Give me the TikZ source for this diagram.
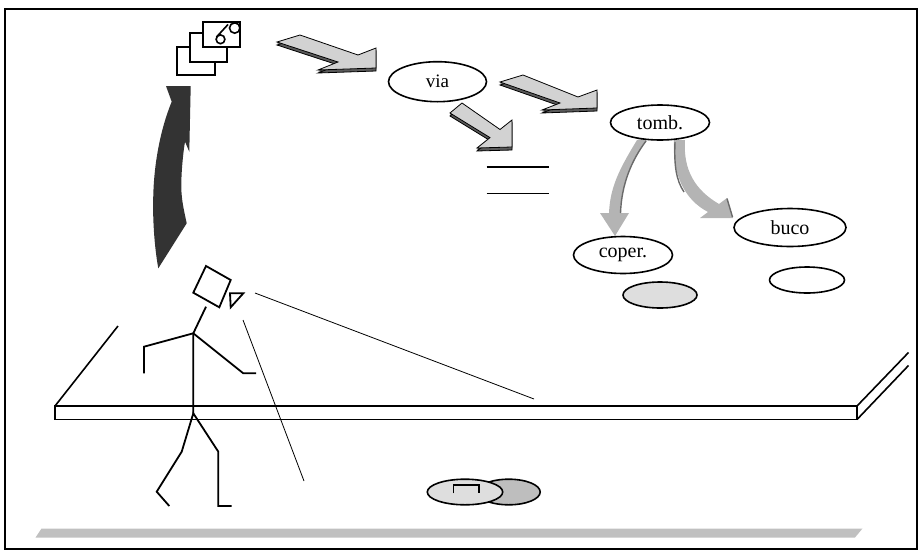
\documentclass[tikz,border=0pt]{standalone}
\usepackage{fontspec}
\setmainfont{Liberation Serif}
\usetikzlibrary{shapes.geometric}

\definecolor{facegray}{HTML}{D2D2D2}
\definecolor{sidegray}{HTML}{5A5A5A}
\definecolor{bendgray}{HTML}{B4B4B4}
\definecolor{bendedge}{HTML}{6A6A6A}
\definecolor{darkarrow}{HTML}{333333}
\definecolor{disclight}{HTML}{DEDEDE}
\definecolor{discdark}{HTML}{BEBEBE}
\definecolor{barcolor}{HTML}{C0C0C0}

\tikzset{
  oval/.style={draw, line width=1.6pt, ellipse, inner sep=0pt, fill=white,
    font=\fontsize{20}{20}\selectfont},
  framebox/.style={line width=1.4pt},
  slab/.style={line width=1.6pt, line join=miter},
  limb/.style={line width=1.8pt, line join=miter},
  sight/.style={line width=0.8pt},
  rule/.style={line width=1.6pt},
  iconbox/.style={draw, line width=1.8pt, fill=white},
  curvebody/.style={fill=bendgray},
  curverim/.style={draw=bendedge, line width=1.4pt},
}

% flat arrow with a thin dark underside
\newcommand{\flatarrow}[7]{%
  \foreach \d in {1,2,3}{%
    \fill[sidegray, shift={(0,\d)}] #1--#2--#3--#4--#5--#6--#7--cycle;}
  \draw[line width=0.8pt, shift={(0,3)}] #1--#2--#3--#4--#5--#6--#7--cycle;
  \draw[line width=0.8pt, fill=facegray, line join=miter] #1--#2--#3--#4--#5--#6--#7--cycle;
}

\begin{document}
\begin{tikzpicture}[x=1pt,y=-1pt]
\useasboundingbox (0,0) rectangle (920,552);

% outer frame
\draw[framebox] (5,9) rectangle (917,549);

% ground strip
\fill[barcolor] (41.5,528.5) -- (862.5,528.5) -- (855,537.5) -- (35.5,537.5) -- cycle;

% stage slab
\draw[slab] (55,406) -- (118,326);
\draw[slab, fill=white] (55,406) rectangle (857,419.5);
\draw[slab] (857,406) -- (908.5,352.5);
\draw[slab] (857,419.5) -- (908.5,365.5);

% lines of sight
\coordinate (eyeA) at (255,293);
\coordinate (eyeB) at (243,320);
\coordinate (farA) at (534,399);
\coordinate (farB) at (304,481);
\draw[sight] (eyeA) -- (farA);
\draw[sight] (eyeB) -- (farB);

% walking figure
\coordinate (neck) at (193.3,333.3);
\coordinate (hip) at (193.3,413.3);
\draw[limb, fill=white] (206,266) -- (230.7,280) -- (219.3,307.3) -- (193.3,292.7) -- cycle;
\draw[limb] (230,293.3) -- (243.3,293.3) -- (230.7,307.3) -- cycle;
\draw[limb] (206,306.7) -- (neck) -- (hip);
\draw[limb] (144,373.3) -- (144,346.7) -- (neck) -- (243.3,373.3) -- (256,373.3);
\draw[limb] (169.3,506) -- (156.7,491.7) -- (181.7,451.7) -- (hip) -- (218.3,451.7) -- (218.3,506) -- (231.7,506);

% rising arrow from the head to the images
\fill[darkarrow] (166,86) -- (190.7,86) -- (189.3,151.7) -- (185,141.7)
  .. controls (182,160) and (180.5,185) .. (181.7,195)
  .. controls (182.5,205) and (185,215) .. (186.7,223.3) -- (158.3,268.3)
  .. controls (154,245) and (152.5,215) .. (153.3,195)
  .. controls (154,165) and (160,130) .. (171.7,101.7) -- cycle;

% stacked pictures
\draw[iconbox] (177,47) rectangle (215,75);
\draw[iconbox] (190,33) rectangle (227,62);
\draw[iconbox] (203,22) rectangle (240,47);
\draw[line width=1.6pt] (234.7,28) circle (5.2pt);
\draw[line width=1.6pt] (220.5,39.3) circle (4.4pt);
\draw[line width=1.6pt] (216.5,37) -- (228,24.5);

% flat arrows
\flatarrow{(300,35)}{(358,55)}{(376,48)}{(376,68)}{(318,70)}{(338,62)}{(277,42)}
\flatarrow{(523,75)}{(578,97)}{(597,90)}{(597,108)}{(542,110)}{(560,103)}{(500,82)}
\flatarrow{(462,103)}{(500,129.5)}{(512,120)}{(512,147)}{(477,148)}{(490,137.6)}{(450,113)}

% nodes
\node[oval, minimum width=98pt, minimum height=40pt, font=\fontsize{19}{19}\selectfont] (via) at (437.5,81.7) {via};

% two blank lines
\draw[rule] (486.7,166.7) -- (549.3,166.7);
\draw[rule] (486.7,193.3) -- (549.3,193.3);

% bent arrows out of tomb.
\fill[curvebody] (637,140) .. controls (622,165) and (610,185) .. (609,213)
  -- (600,213) -- (615,236) -- (629,213) -- (620,213)
  .. controls (621,185) and (632,160) .. (648,138) -- cycle;
\draw[curverim] (646,141) .. controls (631,161) and (621.5,185) .. (620.5,213);

\fill[curvebody] (674,140) .. controls (672,175) and (685,200) .. (708,212)
  -- (700,218) -- (733,218) -- (727,198) -- (719,204)
  .. controls (695,190) and (683,170) .. (685,140) -- cycle;
\draw[curverim] (675,142) .. controls (674,165) and (676,180) .. (684,192);
\draw[curverim] (727,198.5) -- (732.5,217);

\node[oval, minimum width=99pt, minimum height=35pt] (tomb) at (660,122.5) {tomb.};
\node[oval, minimum width=112pt, minimum height=38pt] (buco) at (790,227.5) {buco};
\node[oval, minimum width=99pt, minimum height=37pt] (coper) at (623,255) {coper.};
\node[oval, fill=disclight, minimum width=74pt, minimum height=26pt] (lid) at (660,295) {};
\node[oval, minimum width=75pt, minimum height=26pt] (pit) at (807,280) {};

% discs on the floor
\node[oval, fill=discdark, minimum width=63pt, minimum height=25.6pt] (discR) at (508.7,492) {};
\node[oval, fill=disclight, minimum width=75.4pt, minimum height=25.6pt] (discL) at (465,492) {};
\draw[line width=1.4pt] (453.3,493.3) -- (453.3,485) -- (479,485) -- (479,493.3);

\end{tikzpicture}
\end{document}
